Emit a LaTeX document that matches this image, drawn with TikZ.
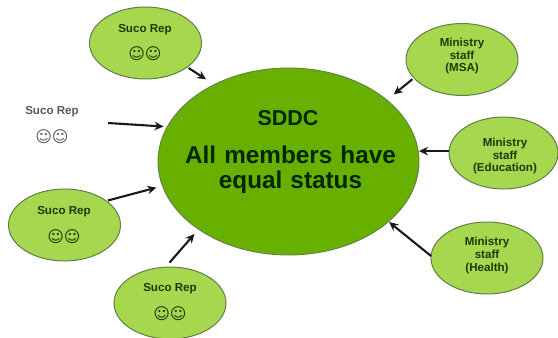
\documentclass[tikz,border=0pt]{standalone}
\usepackage{fontspec}
\setmainfont{Liberation Sans}
\newfontfamily\smileyfont{DejaVu Sans Bold}
\usetikzlibrary{arrows.meta,shapes.geometric}
\definecolor{bigfill}{HTML}{68B000}
\definecolor{smallfill}{HTML}{A6D74F}
\definecolor{edgeg}{HTML}{5F7F45}
\definecolor{txtdark}{HTML}{1C3A08}
\tikzset{
  big/.style={draw=edgeg,line width=0.9pt,fill=bigfill,ellipse,minimum width=261pt,minimum height=187pt,inner sep=0pt,outer sep=0pt},
  small/.style={draw=edgeg,line width=1pt,fill=smallfill,ellipse,minimum width=112pt,minimum height=72pt,inner sep=0pt,outer sep=0pt},
  lab/.style={font=\bfseries\fontsize{11.6}{12.8}\selectfont,text=txtdark,align=center,inner sep=0pt},
  biglab/.style={font=\bfseries\fontsize{24.3}{25}\selectfont,text=black!85!green,align=center,inner sep=0pt},
  smile/.style={font=\smileyfont\fontsize{16}{16}\selectfont,text=txtdark,inner sep=0pt},
  conn/.style={line width=2.1pt,draw=black!90,-{Stealth[length=9pt,width=8.5pt]}}
}
\begin{document}
\begin{tikzpicture}[x=1pt,y=-1pt]
\useasboundingbox (0,0) rectangle (558,338);
\node[big] (sddc) at (288.5,161.5) {};
\node[small] (repA) at (145.5,43) {};
\node[small] (repC) at (64.5,225) {};
\node[small] (repD) at (170,303) {};
\node[small] (msa) at (462,59.5) {};
\node[small,minimum width=109pt] (edu) at (503.5,153) {};
\node[small] (health) at (487,258) {};
\coordinate (repBout) at (108,123);

\node[biglab,font=\bfseries\fontsize{21.5}{25}\selectfont] (t0) at (288,118) {SDDC};
\node[biglab,text width=240pt] (t1) at (290.5,169.5) {All members have\\equal status};

\node[lab] (la) at (145,29.5) {Suco Rep};
\node[smile] (sa) at (145,54) {☺☺};
\node[lab,text=black!65] (lb) at (52,112) {Suco Rep};
\node[smile,text=black!65] (sb) at (52,137) {☺☺};
\node[lab] (lc) at (64,211.5) {Suco Rep};
\node[smile] (sc) at (64,237) {☺☺};
\node[lab] (ld) at (170,288.5) {Suco Rep};
\node[smile] (sd) at (170,314) {☺☺};
\node[lab] (lm) at (462,56) {Ministry\\staff\\(MSA)};
\node[lab] (le) at (505,156) {Ministry\\staff\\(Education)};
\node[lab] (lh) at (487,255.5) {Ministry\\staff\\(Health)};

\draw[conn,shorten <=1.7pt,shorten >=9.7pt] (repA.-30) -- (sddc.134);
\draw[conn,shorten >=3.8pt] (repBout) -- (sddc.164.6);
\draw[conn,shorten <=1.8pt,shorten >=6.4pt] (repC.30) -- (sddc.191.8);
\draw[conn,shorten <=6pt,shorten >=6.3pt] (repD.97) -- (sddc.217.8);
\draw[conn,shorten <=2pt,shorten >=8.9pt] (msa.201.3) -- (sddc.32.2);
\draw[conn] (edu.178) -- (sddc.east |- edu.178);
\draw[conn,shorten >=0.8pt] (health.178) -- (sddc.-31.7);
\end{tikzpicture}
\end{document}
